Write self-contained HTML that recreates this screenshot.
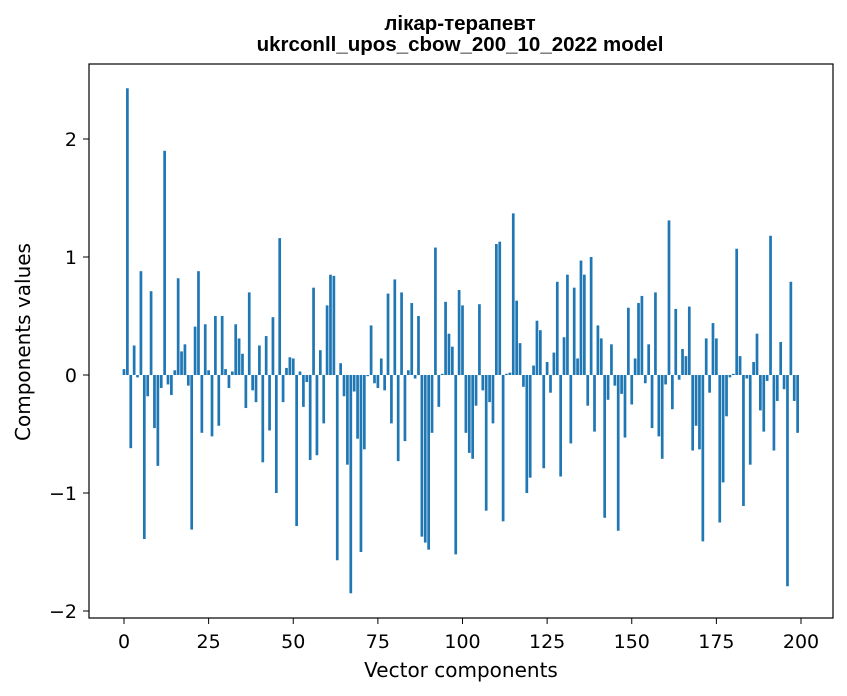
<!DOCTYPE html>
<html><head><meta charset="utf-8"><style>
html,body{margin:0;padding:0;background:#fff;}
svg{display:block;font-family:"DejaVu Sans","Liberation Sans",sans-serif;}
.ttl{font-family:"Liberation Sans","DejaVu Sans",sans-serif;}
</style></head><body>
<svg id="chart" width="847" height="696">
<rect width="847" height="696" fill="#fff"/>
<text class="ttl" x="460" y="30" text-anchor="middle" font-size="20.5" font-weight="bold">лікар-терапевт</text>
<text class="ttl" x="460" y="51" text-anchor="middle" font-size="20.5" font-weight="bold">ukrconll_upos_cbow_200_10_2022 model</text>
<g id="bars"></g>
<rect x="89" y="64" width="744" height="554" fill="none" stroke="#000" stroke-width="1.2"/>
<g id="xticks"></g>
<g id="yticks"></g>
<text x="461" y="677" text-anchor="middle" font-size="20">Vector components</text>
<text transform="translate(30,342) rotate(-90)" text-anchor="middle" font-size="20">Components values</text>
</svg>
<script>
const values = [0.05,2.43,-0.62,0.25,-0.02,0.88,-1.39,-0.18,0.71,-0.45,
-0.77,-0.11,1.9,-0.08,-0.17,0.04,0.82,0.2,0.26,-0.09,
-1.31,0.41,0.88,-0.49,0.43,0.04,-0.52,0.5,-0.43,0.5,
0.05,-0.11,0.03,0.43,0.31,0.18,-0.28,0.7,-0.13,-0.23,
0.25,-0.74,0.33,-0.47,0.49,-1.0,1.16,-0.23,0.06,0.15,
0.14,-1.28,0.03,-0.27,-0.06,-0.72,0.74,-0.68,0.21,-0.41,
0.59,0.85,0.84,-1.57,0.1,-0.18,-0.76,-1.85,-0.14,-0.54,
-1.5,-0.63,-0.01,0.42,-0.07,-0.11,0.14,-0.13,0.69,-0.41,
0.81,-0.73,0.7,-0.56,0.04,0.61,-0.03,0.5,-1.37,-1.42,
-1.48,-0.49,1.08,-0.27,0.01,0.62,0.35,0.24,-1.52,0.72,
0.59,-0.49,-0.66,-0.71,-0.26,0.6,-0.13,-1.15,-0.23,-0.41,
1.11,1.13,-1.24,0.01,0.02,1.37,0.63,0.27,-0.1,-1.0,
-0.87,0.08,0.46,0.38,-0.79,0.11,-0.15,0.19,0.79,-0.86,
0.32,0.85,-0.58,0.74,0.14,0.97,0.85,-0.26,1.0,-0.48,
0.42,0.31,-1.21,-0.21,0.26,-0.09,-1.32,-0.16,-0.53,0.57,
-0.25,0.14,0.61,0.67,-0.07,0.26,-0.45,0.7,-0.52,-0.71,
-0.08,1.31,-0.29,0.56,-0.04,0.22,0.16,0.58,-0.64,-0.43,
-0.63,-1.41,0.31,-0.15,0.44,0.31,-1.25,-0.91,-0.35,-0.02,
0.01,1.07,0.16,-1.11,-0.03,-0.76,0.11,0.35,-0.3,-0.48,
-0.05,1.18,-0.64,-0.22,0.28,-0.12,-1.79,0.79,-0.22,-0.49];
const xTickValues = [0,25,50,75,100,125,150,175,200];
const yTickValues = [2,1,0,-1,-2];
const yTickLabels = ["2","1","0","\u22121","\u22122"];

const NS="http://www.w3.org/2000/svg";
function xs(i){return 124 + i*3.385;}
function ys(v){return 375 - v*118;}
const barsG=document.getElementById('bars');
values.forEach((v,i)=>{
  const r=document.createElementNS(NS,'rect');
  const w=0.8*3.385;
  r.setAttribute('x',xs(i)-w/2);
  r.setAttribute('width',w);
  r.setAttribute('y',Math.min(ys(v),ys(0)));
  r.setAttribute('height',Math.abs(ys(v)-ys(0)));
  r.setAttribute('fill','#1f77b4');
  
  
  barsG.appendChild(r);
});
const xg=document.getElementById('xticks');
xTickValues.forEach(t=>{
  const l=document.createElementNS(NS,'line');
  l.setAttribute('x1',xs(t));l.setAttribute('x2',xs(t));
  l.setAttribute('y1',618);l.setAttribute('y2',624);
  l.setAttribute('stroke','#000');
  
  
  xg.appendChild(l);
  const tx=document.createElementNS(NS,'text');
  tx.setAttribute('x',xs(t));tx.setAttribute('y',648);
  tx.setAttribute('text-anchor','middle');tx.setAttribute('font-size','19');
  tx.textContent=String(t);
  
  
  xg.appendChild(tx);
});
const yg=document.getElementById('yticks');
yTickValues.forEach((t,k)=>{
  const l=document.createElementNS(NS,'line');
  l.setAttribute('x1',83);l.setAttribute('x2',89);
  l.setAttribute('y1',ys(t));l.setAttribute('y2',ys(t));
  l.setAttribute('stroke','#000');
  
  
  yg.appendChild(l);
  const tx=document.createElementNS(NS,'text');
  tx.setAttribute('x',77);tx.setAttribute('y',ys(t)+7);
  tx.setAttribute('text-anchor','end');tx.setAttribute('font-size','19');
  tx.textContent=yTickLabels[k];
  
  
  yg.appendChild(tx);
});
</script>
</body></html>
